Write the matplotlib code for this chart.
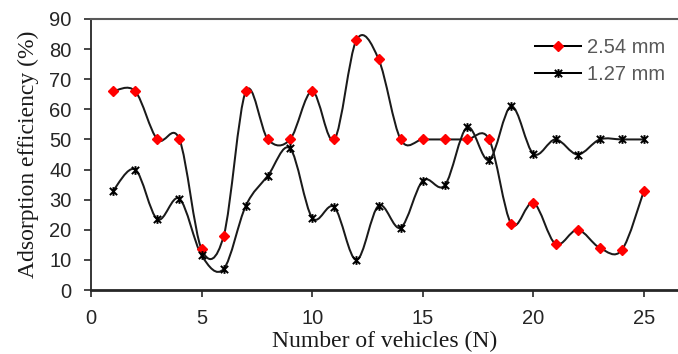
import numpy as np
import matplotlib.pyplot as plt
from matplotlib.path import Path
from matplotlib.patches import PathPatch
from matplotlib.lines import Line2D

# =====================================
# Data
# =====================================

vehicles = [1, 2, 3, 4, 5, 6, 7, 8, 9, 10, 11, 12, 13,
            14, 15, 16, 17, 18, 19, 20, 21, 22, 23, 24, 25]

eff_254 = [66, 66, 50, 50, 13.5, 18, 66, 50, 50, 66, 50, 83, 76.7,
           50, 50, 50, 50, 50, 22, 29, 15.3, 20, 14, 13.3, 33]

eff_127 = [33, 40, 23.5, 30.3, 11.5, 7, 28, 38, 47, 24, 27.5, 10, 28,
           20.7, 36.3, 34.8, 54, 43.2, 61, 45.2, 50, 45, 50, 50, 50]

labels = ["2.54 mm", "1.27 mm"]
x_ticks = [0, 5, 10, 15, 20, 25]
y_ticks = [0, 10, 20, 30, 40, 50, 60, 70, 80, 90]

SERIF = "Liberation Serif"
SANS = "Liberation Sans"


# Excel-like smoothed line (Catmull-Rom as cubic Bezier segments)
def smooth_path(x, y):
    pts = np.column_stack([x, y]).astype(float)
    n = len(pts)
    verts = [pts[0]]
    codes = [Path.MOVETO]
    for i in range(n - 1):
        p0 = pts[max(i - 1, 0)]
        p1 = pts[i]
        p2 = pts[i + 1]
        p3 = pts[min(i + 2, n - 1)]
        verts += [p1 + (p2 - p0) / 6, p2 - (p3 - p1) / 6, p2]
        codes += [Path.CURVE4] * 3
    return Path(verts, codes)


# star marker: X with a vertical bar
star = Path(
    [(-1, -1), (1, 1), (-1, 1), (1, -1), (0, -1.2), (0, 1.2)],
    [Path.MOVETO, Path.LINETO, Path.MOVETO, Path.LINETO, Path.MOVETO, Path.LINETO],
)

LW = 1.45
DIAMOND_MS = 5.2
STAR_MS = 6.3

# =====================================
# Plot
# =====================================

fig = plt.figure(figsize=(6.78, 3.54), dpi=100)
ax = fig.add_axes([91 / 678, 1 - 290 / 354, 587 / 678, 271 / 354])

for ys in (eff_254, eff_127):
    ax.add_patch(PathPatch(smooth_path(vehicles, ys), facecolor="none",
                           edgecolor="#1a1a1a", lw=LW, zorder=2))

ax.plot(vehicles, eff_254, ls="none", marker="D", ms=DIAMOND_MS,
        mfc="#ff0000", mec="#ff0000", zorder=3)
ax.plot(vehicles, eff_127, ls="none", marker=star, ms=STAR_MS,
        mfc="none", mec="black", mew=1.4, zorder=3)

ax.set_xlim(0, 587 / 22.12)
ax.set_ylim(0, 90)
ax.set_xticks(x_ticks)
ax.set_yticks(y_ticks)

ax.spines["right"].set_visible(False)
ax.spines["top"].set_color("#595959")
ax.spines["top"].set_linewidth(1.5)
ax.spines["left"].set_color("#262626")
ax.spines["left"].set_linewidth(1.3)
ax.spines["bottom"].set_color("#262626")
ax.spines["bottom"].set_linewidth(2.0)

ax.tick_params(axis="both", direction="out", length=5, width=1.2,
               color="#262626", labelsize=14.5, labelcolor="#262626", pad=9)
for lab in ax.get_xticklabels() + ax.get_yticklabels():
    lab.set_fontfamily(SANS)

ax.set_xlabel("Number of vehicles (N)", family=SERIF, fontsize=17,
              color="#1a1a1a", labelpad=1.5)
ax.set_ylabel("Adsorption efficiency (%)", family=SERIF, fontsize=17,
              color="#1a1a1a", labelpad=7)

handles = [
    Line2D([], [], color="black", lw=LW, marker="D", ms=DIAMOND_MS,
           mfc="#ff0000", mec="#ff0000"),
    Line2D([], [], color="black", lw=LW, marker=star, ms=STAR_MS,
           mfc="none", mec="black", mew=1.4),
]
leg = ax.legend(handles, labels, loc="upper left",
                bbox_to_anchor=(535 / 678, 1 - 38 / 354),
                bbox_transform=fig.transFigure, frameon=False,
                prop={"family": SANS, "size": 14.5},
                handlelength=2.3, handletextpad=0.3, labelspacing=0.38,
                borderpad=0, borderaxespad=0)
for t in leg.get_texts():
    t.set_color("#595959")

fig.savefig("out.png", dpi=100)
